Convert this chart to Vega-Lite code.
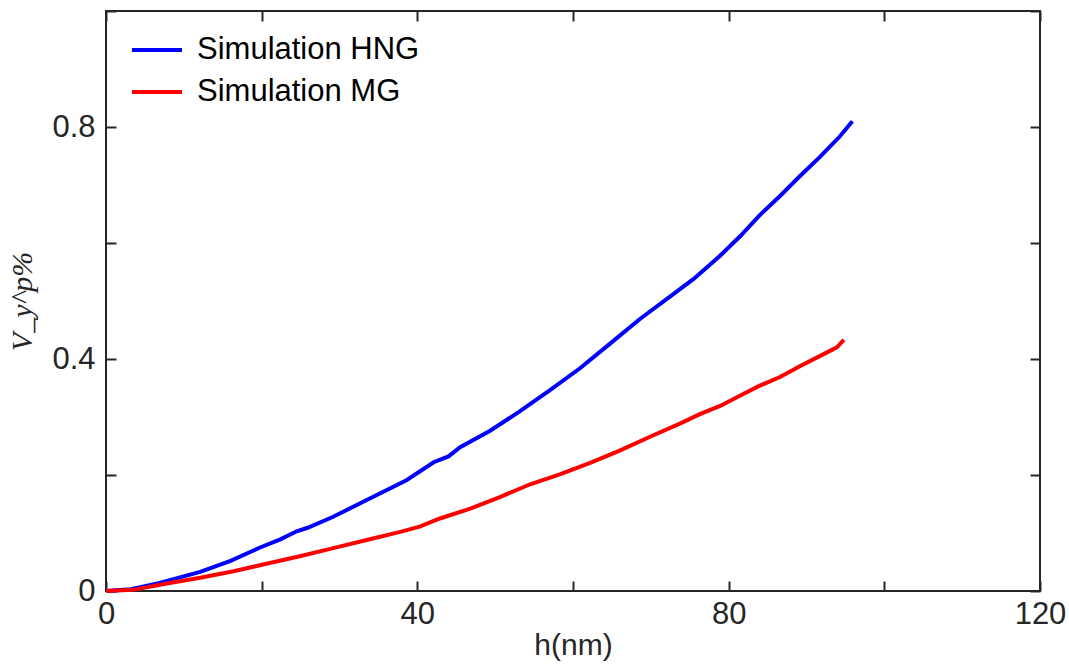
{
  "$schema": "https://vega.github.io/schema/vega-lite/v6.json",
  "width": 934,
  "height": 580,
  "autosize": {"type": "none"},
  "padding": {"left": 106, "top": 11, "right": 29, "bottom": 74},
  "background": "white",
  "config": {"view": {"stroke": "#262626", "strokeWidth": 2}, "font": "Liberation Sans"},
  "data": {"values": [
    {"series": "Simulation HNG", "h": 0, "v": 0},
    {"series": "Simulation HNG", "h": 3.2, "v": 0.003},
    {"series": "Simulation HNG", "h": 6.9, "v": 0.014},
    {"series": "Simulation HNG", "h": 12.1, "v": 0.033},
    {"series": "Simulation HNG", "h": 16.0, "v": 0.052},
    {"series": "Simulation HNG", "h": 19.8, "v": 0.075},
    {"series": "Simulation HNG", "h": 22.4, "v": 0.089},
    {"series": "Simulation HNG", "h": 24.5, "v": 0.103},
    {"series": "Simulation HNG", "h": 25.9, "v": 0.109},
    {"series": "Simulation HNG", "h": 29.2, "v": 0.128},
    {"series": "Simulation HNG", "h": 33.5, "v": 0.157},
    {"series": "Simulation HNG", "h": 38.6, "v": 0.191},
    {"series": "Simulation HNG", "h": 42.1, "v": 0.222},
    {"series": "Simulation HNG", "h": 44.0, "v": 0.232},
    {"series": "Simulation HNG", "h": 45.5, "v": 0.248},
    {"series": "Simulation HNG", "h": 49.3, "v": 0.276},
    {"series": "Simulation HNG", "h": 53.2, "v": 0.31},
    {"series": "Simulation HNG", "h": 57.0, "v": 0.346},
    {"series": "Simulation HNG", "h": 60.9, "v": 0.384},
    {"series": "Simulation HNG", "h": 64.8, "v": 0.427},
    {"series": "Simulation HNG", "h": 68.6, "v": 0.469},
    {"series": "Simulation HNG", "h": 72.5, "v": 0.508},
    {"series": "Simulation HNG", "h": 75.5, "v": 0.538},
    {"series": "Simulation HNG", "h": 78.9, "v": 0.578},
    {"series": "Simulation HNG", "h": 81.5, "v": 0.612},
    {"series": "Simulation HNG", "h": 84.0, "v": 0.648},
    {"series": "Simulation HNG", "h": 86.6, "v": 0.681},
    {"series": "Simulation HNG", "h": 89.2, "v": 0.716},
    {"series": "Simulation HNG", "h": 91.7, "v": 0.748},
    {"series": "Simulation HNG", "h": 94.3, "v": 0.784},
    {"series": "Simulation HNG", "h": 95.9, "v": 0.81},
    {"series": "Simulation MG", "h": 0, "v": 0},
    {"series": "Simulation MG", "h": 3.5, "v": 0.002},
    {"series": "Simulation MG", "h": 7.8, "v": 0.013},
    {"series": "Simulation MG", "h": 12.1, "v": 0.023},
    {"series": "Simulation MG", "h": 16.4, "v": 0.034},
    {"series": "Simulation MG", "h": 20.6, "v": 0.047},
    {"series": "Simulation MG", "h": 24.9, "v": 0.06},
    {"series": "Simulation MG", "h": 29.2, "v": 0.074},
    {"series": "Simulation MG", "h": 33.5, "v": 0.088},
    {"series": "Simulation MG", "h": 37.8, "v": 0.102},
    {"series": "Simulation MG", "h": 40.3, "v": 0.111},
    {"series": "Simulation MG", "h": 42.9, "v": 0.125},
    {"series": "Simulation MG", "h": 46.8, "v": 0.142},
    {"series": "Simulation MG", "h": 50.6, "v": 0.162},
    {"series": "Simulation MG", "h": 54.5, "v": 0.184},
    {"series": "Simulation MG", "h": 58.3, "v": 0.201},
    {"series": "Simulation MG", "h": 62.2, "v": 0.221},
    {"series": "Simulation MG", "h": 66.0, "v": 0.242},
    {"series": "Simulation MG", "h": 69.9, "v": 0.266},
    {"series": "Simulation MG", "h": 73.8, "v": 0.289},
    {"series": "Simulation MG", "h": 76.3, "v": 0.305},
    {"series": "Simulation MG", "h": 78.9, "v": 0.319},
    {"series": "Simulation MG", "h": 81.5, "v": 0.337},
    {"series": "Simulation MG", "h": 84.0, "v": 0.354},
    {"series": "Simulation MG", "h": 86.6, "v": 0.369},
    {"series": "Simulation MG", "h": 89.2, "v": 0.388},
    {"series": "Simulation MG", "h": 91.7, "v": 0.405},
    {"series": "Simulation MG", "h": 93.9, "v": 0.42},
    {"series": "Simulation MG", "h": 94.8, "v": 0.433}
  ]},
  "layer": [
    {
      "mark": {"type": "line", "strokeWidth": 4},
      "encoding": {
        "x": {
          "field": "h", "type": "quantitative",
          "scale": {"domain": [0, 120], "nice": false, "zero": false},
          "axis": {
            "orient": "bottom", "values": [0, 20, 40, 60, 80, 100, 120],
            "labelExpr": "datum.value % 40 === 0 ? datum.label : ''",
            "tickSize": -10, "tickWidth": 2, "tickColor": "#262626",
            "domain": false, "grid": false,
            "labelFontSize": 31, "labelColor": "#262626", "labelFont": "Liberation Sans",
            "labelPadding": 18, "labelFlush": false, "labelOverlap": false,
            "title": "h(nm)", "titleFontSize": 30, "titleFontWeight": "normal",
            "titleColor": "#262626", "titleFont": "Liberation Sans", "titlePadding": 1
          }
        },
        "y": {
          "field": "v", "type": "quantitative",
          "scale": {"domain": [0, 1], "nice": false},
          "axis": {
            "orient": "left", "values": [0, 0.2, 0.4, 0.6, 0.8, 1], "format": ".1~f",
            "labelExpr": "datum.label == '0' || datum.label == '0.4' || datum.label == '0.8' ? datum.label : ''",
            "tickSize": -10, "tickWidth": 2, "tickColor": "#262626",
            "domain": false, "grid": false,
            "labelFontSize": 31, "labelColor": "#262626", "labelFont": "Liberation Sans",
            "labelPadding": 21, "labelOverlap": false, "labelFlush": false,
            "title": "V_y^p%", "titleFontSize": 30, "titleFontWeight": "normal",
            "titleFont": "Liberation Serif", "titleFontStyle": "italic",
            "titleColor": "#262626", "titlePadding": 14
          }
        },
        "color": {
          "field": "series", "type": "nominal",
          "scale": {"domain": ["Simulation HNG", "Simulation MG"], "range": ["#0000ff", "#ff0000"]},
          "legend": {
            "orient": "none", "legendX": 24, "legendY": 12, "title": null,
            "symbolType": "stroke", "symbolSize": 2500, "symbolStrokeWidth": 4,
            "labelFontSize": 31, "labelFont": "Liberation Sans", "labelColor": "#000000",
            "labelOffset": 13, "labelLimit": 0, "rowPadding": 0, "padding": 0
          }
        }
      }
    },
    {
      "mark": {"type": "line", "opacity": 0},
      "encoding": {
        "x": {
          "field": "h", "type": "quantitative",
          "axis": {
            "orient": "top", "values": [0, 20, 40, 60, 80, 100, 120], "labels": false,
            "tickSize": -10, "tickWidth": 2, "tickColor": "#262626",
            "domain": false, "grid": false, "title": null
          }
        },
        "y": {
          "field": "v", "type": "quantitative",
          "axis": {
            "orient": "right", "values": [0, 0.2, 0.4, 0.6, 0.8, 1], "labels": false,
            "tickSize": -10, "tickWidth": 2, "tickColor": "#262626",
            "domain": false, "grid": false, "title": null
          }
        },
        "detail": {"field": "series", "type": "nominal"}
      }
    }
  ],
  "resolve": {"axis": {"x": "independent", "y": "independent"}}
}
